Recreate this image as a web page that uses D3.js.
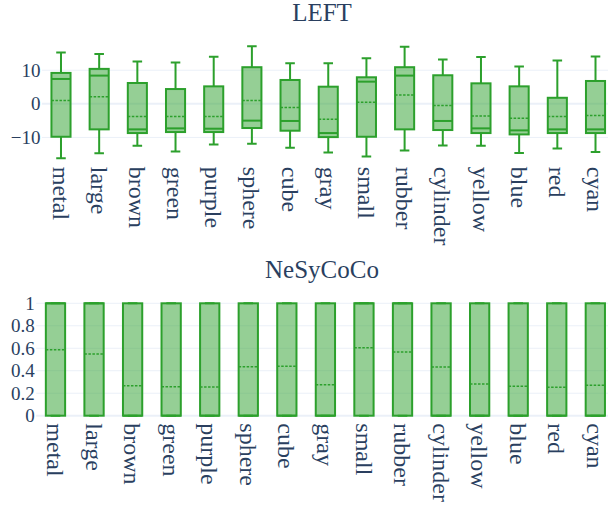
<!DOCTYPE html>
<html>
<head>
<meta charset="utf-8">
<script src="https://cdn.jsdelivr.net/npm/d3@7"></script>
<style>
  body { margin: 0; background: #fff; }
  svg { display: block; font-family: "Liberation Serif", "Times New Roman", serif; }
</style>
</head>
<body>
<svg id="chart" width="608" height="505"></svg>
<script>
// categories shared by both panels
var categories = ["metal", "large", "brown", "green", "purple", "sphere", "cube", "gray",
  "small", "rubber", "cylinder", "yellow", "blue", "red", "cyan"];

// LEFT panel box stats
var leftMin    = [-16.2, -14.7, -12.5, -14.2, -12.1, -11.9, -13.1, -14.5, -15.7, -13.9, -12.4, -12.5, -14.6, -13.3, -14.3];
var leftQ1     = [-9.8, -7.6, -8.7, -8.4, -8.4, -7.2, -8.0, -9.9, -9.8, -7.6, -7.8, -8.7, -9.1, -8.7, -8.7];
var leftMedian = [7.4, 8.4, -7.6, -7.3, -7.4, -5.0, -5.1, -8.7, 6.6, 8.4, -5.1, -7.3, -7.9, -7.6, -7.6];
var leftQ3     = [9.2, 10.4, 6.2, 4.4, 5.2, 10.9, 7.1, 5.1, 7.9, 10.9, 8.5, 6.1, 5.2, 1.8, 6.8];
var leftMax    = [15.3, 14.8, 12.6, 12.3, 14.0, 17.1, 12.1, 12.1, 13.6, 17.0, 13.2, 13.9, 11.1, 12.9, 14.1];
var leftMean   = [1.0, 2.1, -3.8, -3.8, -3.8, 1.0, -1.1, -4.6, 0.5, 2.6, -0.5, -3.6, -4.3, -3.8, -3.5];
var leftTicks  = [-10, 0, 10];

// NeSyCoCo panel box stats (all boxes span 0..1)
var nesyMin    = [0, 0, 0, 0, 0, 0, 0, 0, 0, 0, 0, 0, 0, 0, 0];
var nesyQ1     = [0, 0, 0, 0, 0, 0, 0, 0, 0, 0, 0, 0, 0, 0, 0];
var nesyMedian = [1, 1, 0, 0, 0, 0, 0, 0, 1, 1, 0, 0, 0, 0, 0];
var nesyQ3     = [1, 1, 1, 1, 1, 1, 1, 1, 1, 1, 1, 1, 1, 1, 1];
var nesyMax    = [1, 1, 1, 1, 1, 1, 1, 1, 1, 1, 1, 1, 1, 1, 1];
var nesyMean   = [0.587, 0.549, 0.267, 0.258, 0.255, 0.436, 0.439, 0.276, 0.605, 0.567, 0.433, 0.282, 0.262, 0.253, 0.270];
var nesyTicks  = [0, 0.2, 0.4, 0.6, 0.8, 1];

var textColor = "#2a3f5f";
var gridColor = "#ebf0f8";
var boxLine = "#2ca02c";
var boxFill = "rgba(44,160,44,0.5)";

var svg = d3.select("#chart");

function rows(mins, q1s, meds, q3s, maxs, means) {
  return categories.map(function(c, i) {
    return { cat: c, min: mins[i], q1: q1s[i], med: meds[i], q3: q3s[i], max: maxs[i], mean: means[i] };
  });
}

function drawPanel(cfg) {
  var g = svg.append("g");
  var x = d3.scaleBand().domain(categories).range([cfg.left, cfg.right]).padding(0);
  var y = d3.scaleLinear().domain(cfg.domain).range([cfg.bottom, cfg.top]);
  var step = x.step();
  var bw = step * 0.5;

  // title
  g.append("text")
    .attr("x", 322).attr("y", cfg.titleY)
    .attr("text-anchor", "middle")
    .attr("fill", textColor)
    .style("font-size", "25px")
    .text(cfg.title);

  // grid
  g.selectAll("line.grid").data(cfg.ticks).enter()
    .append("line")
    .attr("x1", cfg.left).attr("x2", cfg.right)
    .attr("y1", function(d) { return y(d); })
    .attr("y2", function(d) { return y(d); })
    .attr("stroke", gridColor)
    .attr("stroke-width", function(d) { return d === 0 ? 2 : 1; });

  // y tick labels
  var yAxis = d3.axisLeft(y).tickValues(cfg.ticks).tickSize(0).tickPadding(1.5).tickFormat(cfg.fmt);
  var ya = g.append("g").attr("transform", "translate(" + cfg.left + ",0)").call(yAxis);
  ya.select(".domain").remove();
  ya.selectAll("text").attr("fill", textColor).style("font-size", "19px")
    .style("font-family", "'Liberation Serif', 'Times New Roman', serif");

  // x tick labels, rotated
  g.selectAll("text.xl").data(categories).enter()
    .append("text")
    .attr("class", "xl")
    .attr("transform", function(d) {
      return "translate(" + (x(d) + step / 2) + "," + (cfg.bottom + cfg.labelPad) + ") rotate(90)";
    })
    .attr("dy", "0.35em")
    .attr("text-anchor", "start")
    .attr("fill", textColor)
    .style("font-size", "24px")
    .text(function(d) { return d; });

  var boxes = g.selectAll("g.box").data(cfg.data).enter()
    .append("g")
    .attr("transform", function(d) { return "translate(" + (x(d.cat) + step / 2) + ",0)"; });

  // whiskers + caps
  boxes.append("path")
    .attr("fill", "none")
    .attr("stroke", boxLine)
    .attr("stroke-width", 2)
    .attr("d", function(d) {
      var c = bw / 4;
      return "M0," + y(d.q3) + "V" + y(d.max) + "M" + (-c) + "," + y(d.max) + "H" + c +
        "M0," + y(d.q1) + "V" + y(d.min) + "M" + (-c) + "," + y(d.min) + "H" + c;
    });

  // box
  boxes.append("rect")
    .attr("x", -bw / 2)
    .attr("width", bw)
    .attr("y", function(d) { return y(d.q3); })
    .attr("height", function(d) { return y(d.q1) - y(d.q3); })
    .attr("fill", boxFill)
    .attr("stroke", boxLine)
    .attr("stroke-width", 2);

  // median
  boxes.append("line")
    .attr("x1", -bw / 2).attr("x2", bw / 2)
    .attr("y1", function(d) { return y(d.med); })
    .attr("y2", function(d) { return y(d.med); })
    .attr("stroke", boxLine)
    .attr("stroke-width", 2);

  // mean (dashed)
  boxes.append("line")
    .attr("x1", -bw / 2).attr("x2", bw / 2)
    .attr("y1", function(d) { return y(d.mean); })
    .attr("y2", function(d) { return y(d.mean); })
    .attr("stroke", boxLine)
    .attr("stroke-width", 1.5)
    .attr("stroke-dasharray", "2.5,1.5");
}

drawPanel({
  title: "LEFT", titleY: 21,
  left: 41.9, right: 614.6, top: 42, bottom: 162.3,
  domain: [-17.4, 18.4], ticks: leftTicks, fmt: d3.format("d"),
  labelPad: 4.5,
  data: rows(leftMin, leftQ1, leftMedian, leftQ3, leftMax, leftMean)
});

drawPanel({
  title: "NeSyCoCo", titleY: 278.3,
  left: 36.2, right: 614.6, top: 303.3, bottom: 415.7,
  domain: [0, 1], ticks: nesyTicks, fmt: function(d) { return String(d); },
  labelPad: 7.6,
  data: rows(nesyMin, nesyQ1, nesyMedian, nesyQ3, nesyMax, nesyMean)
});
</script>
</body>
</html>
